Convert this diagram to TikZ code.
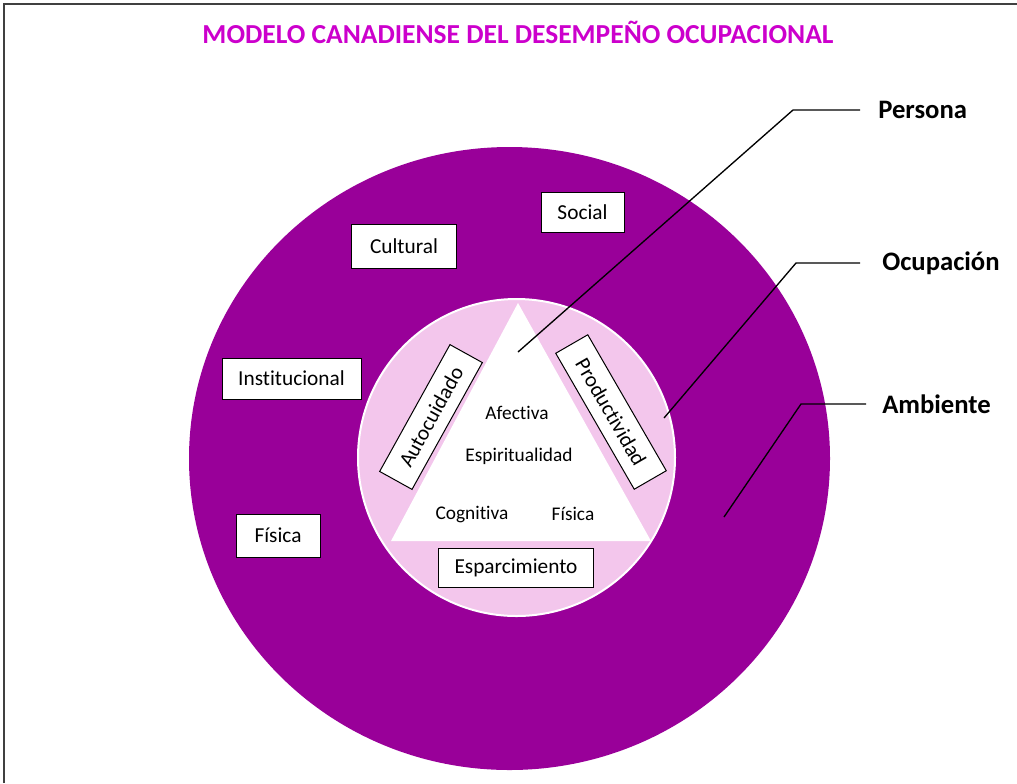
\documentclass[tikz,border=0pt]{standalone}
\usepackage{fontspec}
\setmainfont{Carlito}[Ligatures=NoCommon]
\usepackage{tikz}

\definecolor{titulo}{HTML}{CC00CC}
\definecolor{ambiente}{HTML}{990099}
\definecolor{ocupacion}{HTML}{F3C6EC}

\begin{document}
\begin{tikzpicture}[x=0.75pt, y=-0.75pt,
    marco/.style={draw, fill=white, line width=0.75pt, inner sep=0pt,
                  font=\fontsize{16}{19}\selectfont},
    dim/.style={font=\fontsize{14.5}{17}\selectfont},
    rotulo/.style={anchor=west, inner xsep=12pt, inner ysep=0pt,
                   font=\bfseries\fontsize{20}{24}\selectfont},
    guia/.style={line width=1pt}]
    \useasboundingbox (0,0) rectangle (1017,783);

    % Frame
    \draw[line width=1.5pt, black!75] (4,783) -- (4,4) -- (1017,4);

    % Title
    \node[text=titulo, font=\bfseries\fontsize{20.6}{24}\selectfont] (titulo) at (518,32)
        {MODELO CANADIENSE DEL DESEMPEÑO OCUPACIONAL};

    % Define shapes
    \fill[ambiente] (509.5,458.5) ellipse [x radius=320.5, y radius=311.5];
    \draw[fill=ocupacion, draw=white, line width=1.5pt] (516.5,457.5) circle [radius=158.5];
    \fill[white] (518,303) -- (391,541) -- (651,541) -- cycle;

    % Define nodes
    \node[marco, minimum width=62.25pt, minimum height=30pt] (social) at (582.5,212.5) {Social};
    \node[marco, minimum width=78.75pt, minimum height=33pt] (cultural) at (404,246) {Cultural};
    \node[marco, minimum width=104.25pt, minimum height=30.75pt] (institucional) at (291.5,378.5) {Institucional};
    \node[marco, minimum width=63pt, minimum height=32.25pt] (fisica) at (278,535.5) {Física};
    \node[marco, minimum width=116.25pt, minimum height=29.25pt] (esparcimiento) at (516,568) {Esparcimiento};
    \node[marco, rotate=61, minimum width=108.75pt, minimum height=27.75pt] (autocuidado) at (431,417) {Autocuidado};
    \node[marco, rotate=-60, minimum width=117.75pt, minimum height=27.75pt] (productividad) at (611,412) {Productividad};

    \node[dim] (afectiva) at (517,413) {Afectiva};
    \node[dim] (espiritualidad) at (519,456) {Espiritualidad};
    \node[dim] (cognitiva) at (472,514) {Cognitiva};
    \node[dim] (fisicap) at (573,514) {Física};

    \node[rotulo, inner xsep=13.5pt] (persona) at (860,110) {Persona};
    \node[rotulo, inner xsep=16.5pt] (ocupacionr) at (860,263) {Ocupación};
    \node[rotulo] (ambienter) at (866,404) {Ambiente};

    \coordinate (persona-in) at (518,352);
    \coordinate (persona-codo) at (793,110);
    \coordinate (ocupacion-in) at (664,418);
    \coordinate (ocupacion-codo) at (796,263);
    \coordinate (ambiente-in) at (724,517);
    \coordinate (ambiente-codo) at (801,404);

    % Draw leaders
    \draw[guia] (persona-in) -- (persona-codo) -- (persona.west);
    \draw[guia] (ocupacion-in) -- (ocupacion-codo) -- (ocupacionr.west);
    \draw[guia] (ambiente-in) -- (ambiente-codo) -- (ambienter.west);
\end{tikzpicture}
\end{document}
